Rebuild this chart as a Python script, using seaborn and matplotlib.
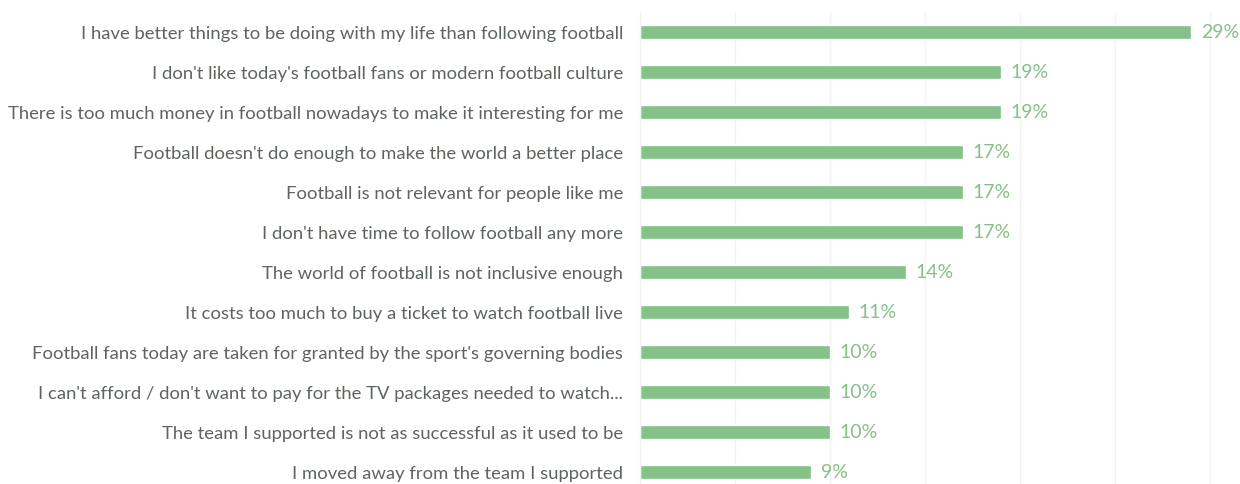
import matplotlib
matplotlib.use("Agg")
import matplotlib.pyplot as plt
import seaborn as sns
import pandas as pd

# ==============================
# DADOS
# ==============================
reasons = [
    "I have better things to be doing with my life than following football",
    "I don't like today's football fans or modern football culture",
    "There is too much money in football nowadays to make it interesting for me",
    "Football doesn't do enough to make the world a better place",
    "Football is not relevant for people like me",
    "I don't have time to follow football any more",
    "The world of football is not inclusive enough",
    "It costs too much to buy a ticket to watch football live",
    "Football fans today are taken for granted by the sport's governing bodies",
    "I can't afford / don't want to pay for the TV packages needed to watch...",
    "The team I supported is not as successful as it used to be",
    "I moved away from the team I supported",
]
shares = [29, 19, 19, 17, 17, 17, 14, 11, 10, 10, 10, 9]
grid_ticks = [0, 5, 10, 15, 20, 25, 30]

df = pd.DataFrame({"reason": reasons, "share": shares})

# ==============================
# ESTILO
# ==============================
sns.set_theme(style="white")
plt.rcParams["font.family"] = ["Lato", "DejaVu Sans"]

BAR = "#85c188"
TEXT = "#5e645e"
GRID = "#eef4ee"

fig = plt.figure(figsize=(12.4, 4.84), dpi=100)
# eixo ocupa da coluna 640px ate a borda direita; ultima linha sai um pouco abaixo
ax = fig.add_axes([640 / 1240, -8 / 484, 600 / 1240, 480 / 484])

sns.barplot(data=df, y="reason", x="share", color=BAR, orient="h",
            width=0.35, saturation=1, ax=ax)

ax.set_xlim(0, 600 / 19)
ax.set_ylim(11.5, -0.5)
ax.set_xticks(grid_ticks)
ax.xaxis.grid(True, color=GRID, linewidth=1)
ax.set_axisbelow(True)
ax.set_xticklabels([])
ax.tick_params(axis="x", length=0)
ax.tick_params(axis="y", length=0, pad=12, labelsize=13.3, labelcolor=TEXT)
ax.set_xlabel("")
ax.set_ylabel("")

for s in ["top", "right", "bottom"]:
    ax.spines[s].set_visible(False)
ax.spines["left"].set_color(GRID)
ax.spines["left"].set_linewidth(1)

ax.bar_label(ax.containers[0], labels=[f"{v}%" for v in shares],
             padding=7, color=BAR, fontsize=14)

fig.savefig("out.png", dpi=100)
